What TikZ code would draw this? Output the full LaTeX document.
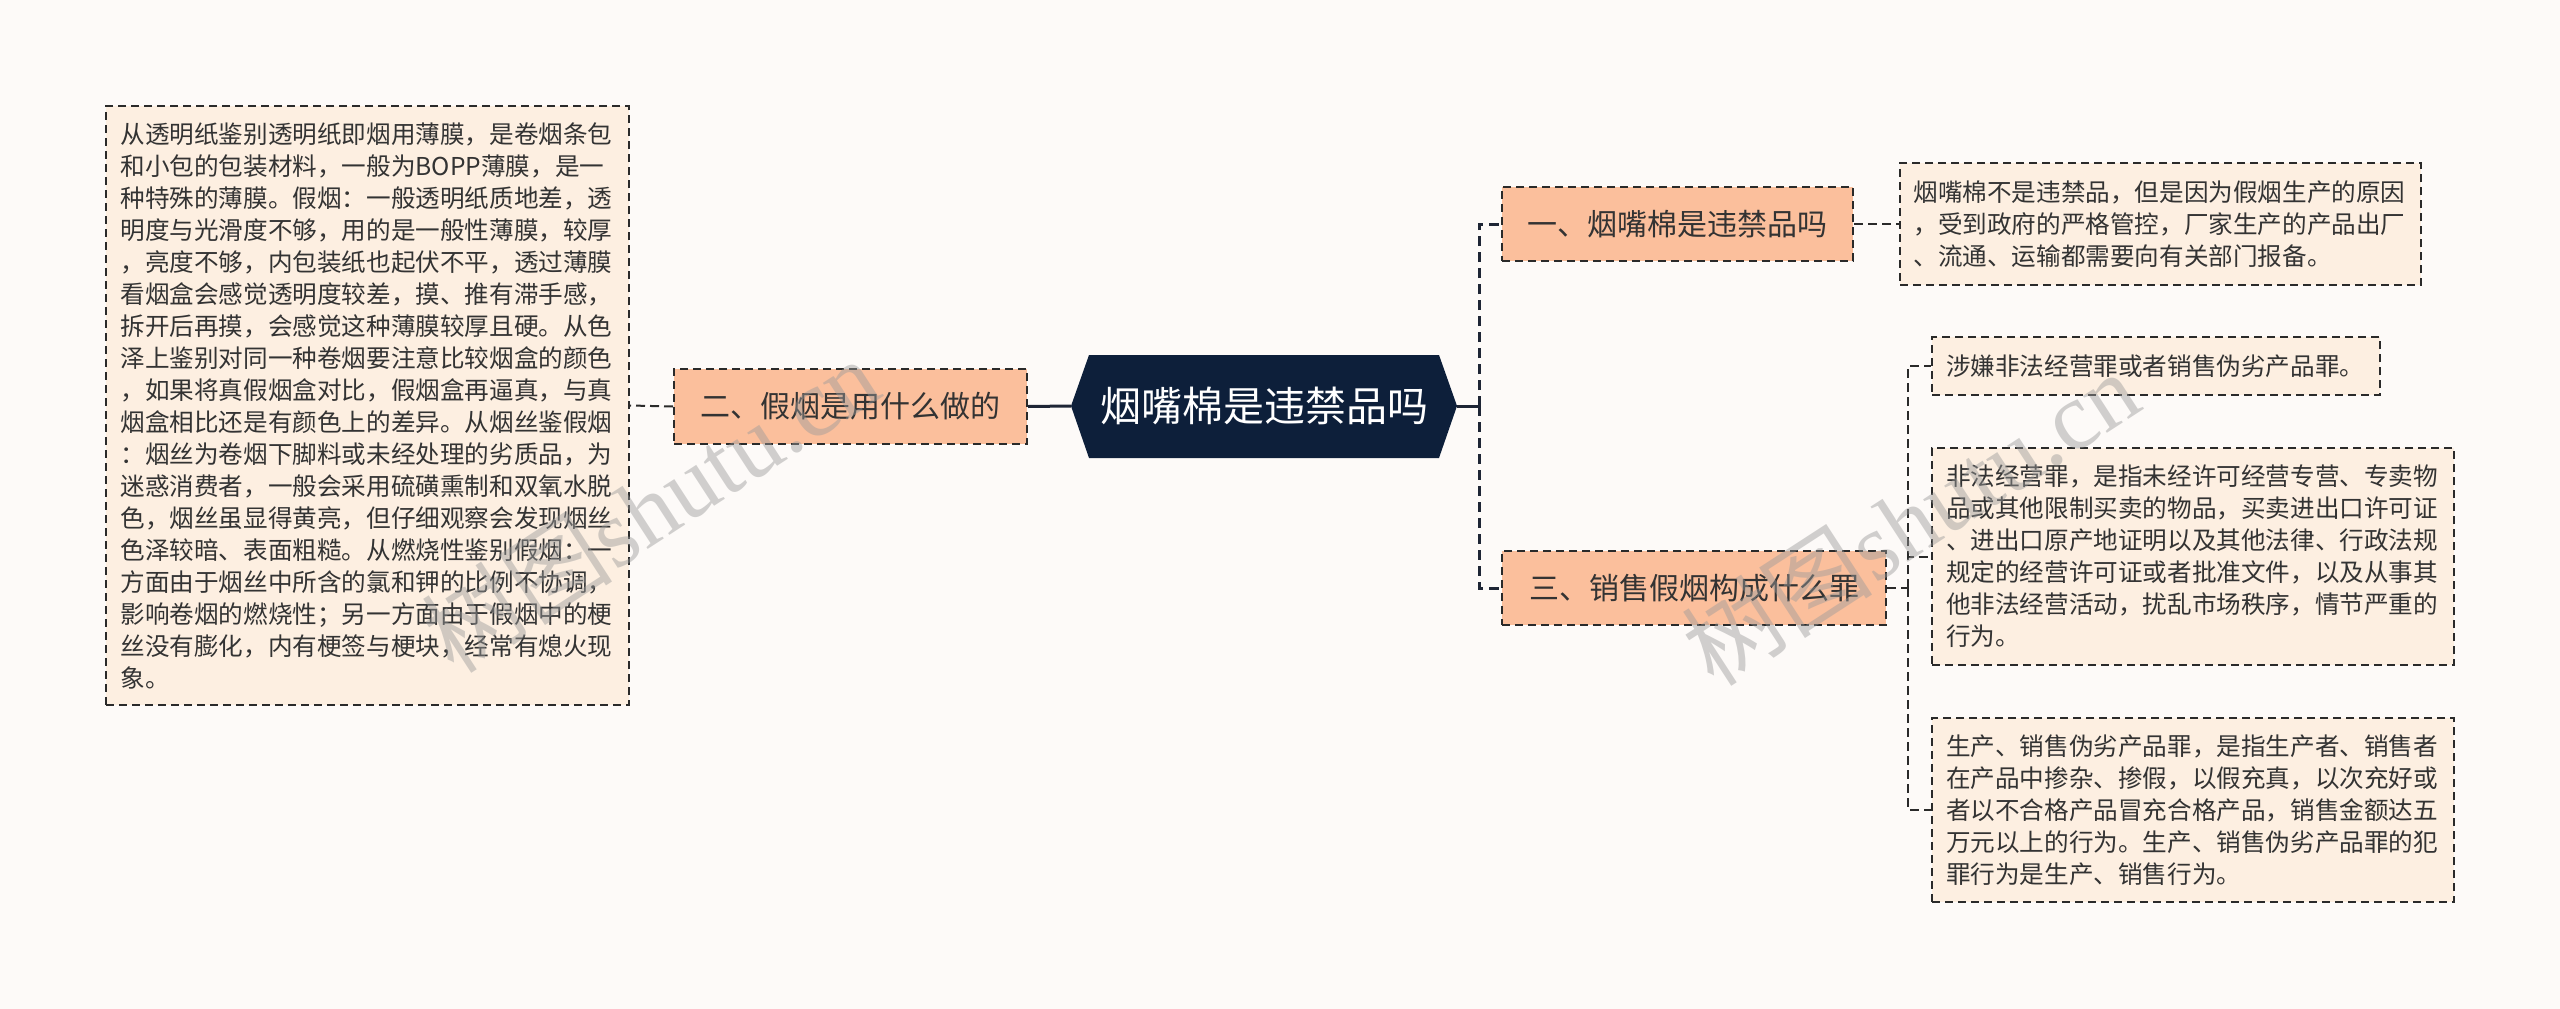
\documentclass[tikz,border=0pt]{standalone}
\usepackage{fontspec}
\setmainfont{Noto Sans CJK SC}
\newfontfamily\wmlatin{Liberation Serif}
\definecolor{pagebg}{HTML}{FDFAF8}
\definecolor{leaffill}{HTML}{FDEFE1}
\definecolor{lvlfill}{HTML}{FBBF9C}
\definecolor{hexfill}{HTML}{0D1F3A}
\definecolor{linecol}{HTML}{1E2535}
\definecolor{boxline}{HTML}{2A2A2A}
\definecolor{txt}{HTML}{333333}
\definecolor{wm}{HTML}{9A9A9A}
\tikzset{
  boxdash/.style={dash pattern=on 8pt off 5pt},
  leafbox/.style={draw=boxline, boxdash, line width=2pt, fill=leaffill, text=txt,
    inner sep=0pt, align=left, font=\fontsize{24.6}{32}\selectfont},
  lvlbox/.style={draw=boxline, boxdash, line width=2pt, fill=lvlfill, text=txt,
    inner sep=0pt, align=center, font=\fontsize{30}{36}\selectfont},
  rootlink/.style={draw=linecol, line width=3pt},
  rootdash/.style={draw=linecol, line width=3pt, dash pattern=on 10pt off 6pt},
  leaflink/.style={draw=boxline, line width=2pt, dash pattern=on 9pt off 5pt},
  wmark/.style={text=wm, opacity=0.45, font=\fontsize{96}{96}\selectfont, rotate=33}
}
\begin{document}
\begin{tikzpicture}[x=1pt,y=-1pt]
\useasboundingbox (0,0) rectangle (2560,1009);
\fill[pagebg] (0,0) rectangle (2560,1009);

% root hexagon
\fill[hexfill] (1071,406) -- (1089,355) -- (1439,355) -- (1457,406) -- (1439,458) -- (1089,458) -- cycle;
\node[text=white, font=\fontsize{41}{46}\selectfont, minimum width=386pt, minimum height=103pt, inner sep=0pt] (root) at (1264,406) {烟嘴棉是违禁品吗};

% level 1
\node[lvlbox, minimum width=353pt, minimum height=75pt] (n2) at (850.5,406.5) {二、假烟是用什么做的};
\node[lvlbox, minimum width=351pt, minimum height=74pt] (n1) at (1677.5,224) {一、烟嘴棉是违禁品吗};
\node[lvlbox, minimum width=384pt, minimum height=74pt] (n3) at (1694,588) {三、销售假烟构成什么罪};

% leaves
\node[leafbox, minimum width=523pt, minimum height=599pt, text width=494pt] (tl) at (367.5,405.5) {%
从透明纸鉴别透明纸即烟用薄膜，是卷烟条包\\
和小包的包装材料，一般为BOPP薄膜，是一\\
种特殊的薄膜。假烟：一般透明纸质地差，透\\
明度与光滑度不够，用的是一般性薄膜，较厚\\
，亮度不够，内包装纸也起伏不平，透过薄膜\\
看烟盒会感觉透明度较差，摸、推有滞手感，\\
拆开后再摸，会感觉这种薄膜较厚且硬。从色\\
泽上鉴别对同一种卷烟要注意比较烟盒的颜色\\
，如果将真假烟盒对比，假烟盒再逼真，与真\\
烟盒相比还是有颜色上的差异。从烟丝鉴假烟\\
：烟丝为卷烟下脚料或未经处理的劣质品，为\\
迷惑消费者，一般会采用硫磺熏制和双氧水脱\\
色，烟丝虽显得黄亮，但仔细观察会发现烟丝\\
色泽较暗、表面粗糙。从燃烧性鉴别假烟：一\\
方面由于烟丝中所含的氯和钾的比例不协调，\\
影响卷烟的燃烧性；另一方面由于假烟中的梗\\
丝没有膨化，内有梗签与梗块，经常有熄火现\\
象。};

\node[leafbox, minimum width=521pt, minimum height=122pt, text width=494pt] (t1) at (2160.5,224) {%
烟嘴棉不是违禁品，但是因为假烟生产的原因\\
，受到政府的严格管控，厂家生产的产品出厂\\
、流通、运输都需要向有关部门报备。};

\node[leafbox, minimum width=448pt, minimum height=58pt, text width=420pt] (ta) at (2156,366) {%
涉嫌非法经营罪或者销售伪劣产品罪。};

\node[leafbox, minimum width=522pt, minimum height=217pt, text width=494pt] (tb) at (2193,556.5) {%
非法经营罪，是指未经许可经营专营、专卖物\\
品或其他限制买卖的物品，买卖进出口许可证\\
、进出口原产地证明以及其他法律、行政法规\\
规定的经营许可证或者批准文件，以及从事其\\
他非法经营活动，扰乱市场秩序，情节严重的\\
行为。};

\node[leafbox, minimum width=522pt, minimum height=184pt, text width=494pt] (tc) at (2193,810) {%
生产、销售伪劣产品罪，是指生产者、销售者\\
在产品中掺杂、掺假，以假充真，以次充好或\\
者以不合格产品冒充合格产品，销售金额达五\\
万元以上的行为。生产、销售伪劣产品罪的犯\\
罪行为是生产、销售行为。};

% connectors
\coordinate (j1) at (1479,406);
\coordinate (j3) at (1908,588);
\draw[rootlink] (root.west) -- (n2.east);
\draw[leaflink] (n2.west) -- (tl.east);
\draw[rootlink] (root.east) -- (j1);
\draw[rootdash] (j1) |- (n1.west);
\draw[rootdash] (j1) |- (n3.west);
\draw[leaflink] (n1.east) -- (t1.west);
\draw[leaflink] (n3.east) -- (j3);
\draw[leaflink] (j3) |- (ta.west);
\draw[leaflink] (j3) |- (tb.west);
\draw[leaflink] (j3) |- (tc.west);

% watermarks
\node[wmark] (wm1) at (650,505) {树图{\wmlatin shutu.cn}};
\node[wmark] (wm2) at (1910,518) {树图{\wmlatin shutu.cn}};
\end{tikzpicture}
\end{document}
